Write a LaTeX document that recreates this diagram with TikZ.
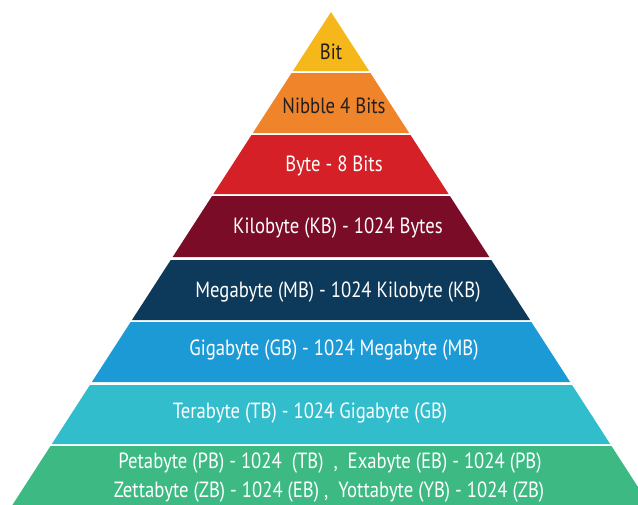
\documentclass[tikz,border=0pt]{standalone}
\usepackage{fontspec}
\newfontfamily\pyrfont[FakeStretch=0.85]{PT Sans}
\definecolor{cbit}{HTML}{F6B71A}
\definecolor{cnib}{HTML}{F0842A}
\definecolor{cbyte}{HTML}{D52027}
\definecolor{ckb}{HTML}{7B0C28}
\definecolor{cmb}{HTML}{0D3A5B}
\definecolor{cgb}{HTML}{1C9AD6}
\definecolor{ctb}{HTML}{31BDCB}
\definecolor{cpb}{HTML}{3DBA84}
\definecolor{darktxt}{HTML}{231F20}
\tikzset{
  lbl/.style={inner sep=0pt, font=\pyrfont\fontsize{22}{29}\selectfont, text=white},
  lbldark/.style={lbl, text=darktxt},
}
\newcommand{\layer}[3]{% top, bottom, colour
  \fill[#3] ({331-(#1-12)*0.6463},#1) -- ({331+(#1-12)*0.6463},#1)
    -- ({331+(#2-12)*0.6463},#2) -- ({331-(#2-12)*0.6463},#2) -- cycle;}
\begin{document}
\begin{tikzpicture}[x=1pt,y=-1pt]
\useasboundingbox (0,0) rectangle (638,504);
\clip (0,0) rectangle (638,504);
\fill[cbit] (331,12) -- ({331+59*0.6463},71) -- ({331-59*0.6463},71) -- cycle;
\layer{73}{133}{cnib}
\layer{135}{194}{cbyte}
\layer{196}{257}{ckb}
\layer{260}{320}{cmb}
\layer{322}{382}{cgb}
\layer{385}{444}{ctb}
\layer{446}{520}{cpb}
\node[lbldark] (bit) at (331,52) {Bit};
\node[lbldark] (nib) at (334,106) {Nibble 4 Bits};
\node[lbl] (byte) at (334,166) {Byte - 8 Bits};
\node[lbl] (kb) at (338,228) {Kilobyte (KB) - 1024 Bytes};
\node[lbl] (mb) at (338,292) {Megabyte (MB) - 1024 Kilobyte (KB)};
\node[lbl] (gb) at (334,350) {Gigabyte (GB) - 1024 Megabyte (MB)};
\node[lbl] (tb) at (310,413) {Terabyte (TB) - 1024 Gigabyte (GB)};
\node[lbl] (pb) at (330,463) {Petabyte (PB) - 1024\ \ (TB)\ \ ,\ \ Exabyte (EB) - 1024 (PB)};
\node[lbl] (zb) at (329,492) {Zettabyte (ZB) - 1024 (EB)\ ,\ \ Yottabyte (YB) - 1024 (ZB)};
\end{tikzpicture}
\end{document}
